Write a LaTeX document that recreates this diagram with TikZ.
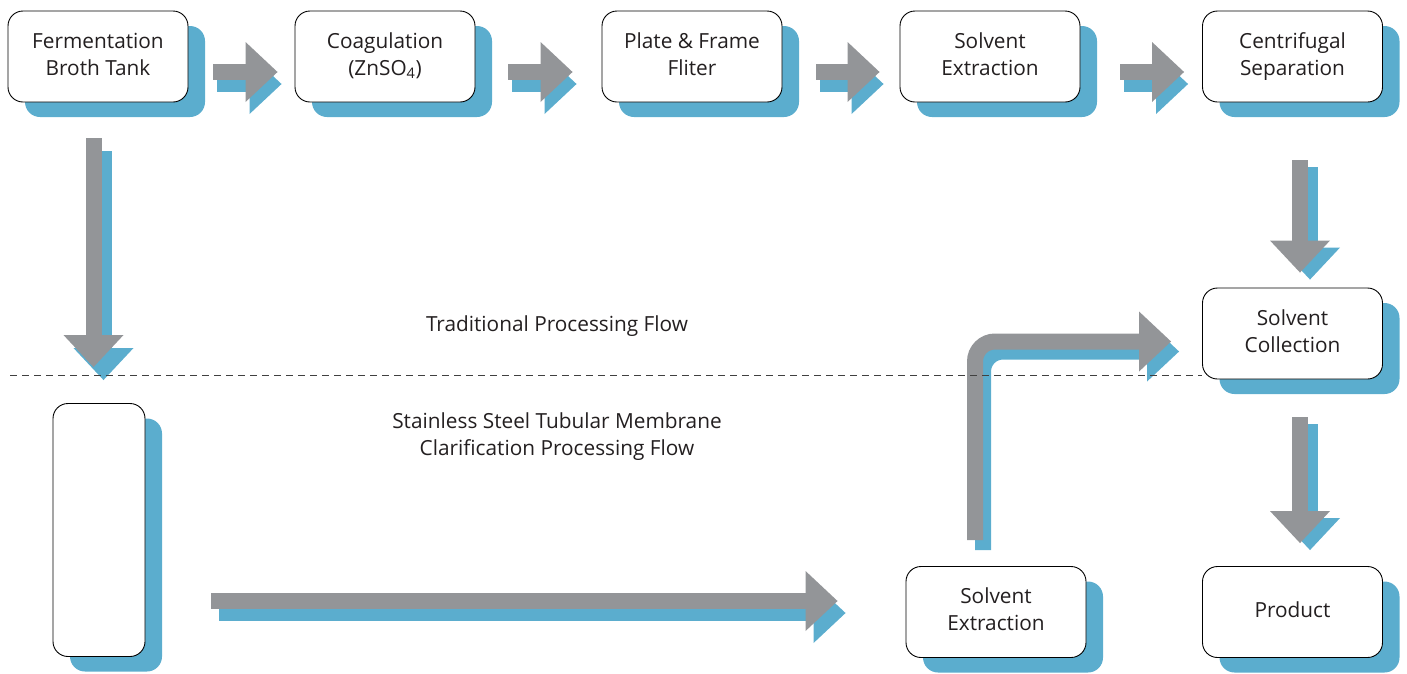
\documentclass[tikz,border=0pt]{standalone}
\usepackage{fontspec}
\setmainfont{Open Sans}
\usetikzlibrary{arrows.meta,shadows,calc}
\definecolor{arrgrey}{HTML}{939598}
\definecolor{shblue}{HTML}{5BADCE}
\definecolor{txt}{HTML}{231F20}
\newcommand\boxtext[1]{\raisebox{3pt}{\begin{tabular}{@{}c@{}}#1\end{tabular}}}
\begin{document}
\begin{tikzpicture}[x=1pt,y=-1pt,
  box/.style={draw=black, line width=0.9pt, fill=white, rounded corners=15pt,
    minimum width=180pt, minimum height=91pt, align=center, inner sep=0pt,
    text=txt, font=\fontsize{20.8}{27}\selectfont,
    general shadow={fill=shblue, shadow xshift=17pt, shadow yshift=-15pt}},
  lbl/.style={align=center, inner sep=0pt, text=txt, font=\fontsize{20.8}{27}\selectfont},
  bigarrow/.style={line width=16pt, line cap=butt,
    -{Triangle[length=32pt, width=60pt, line width=0pt]}},
  grey/.style={draw=arrgrey},
  blue/.style={draw=shblue},
  divider/.style={draw=black!75, line width=1pt, dash pattern=on 7pt off 5pt}
]
\useasboundingbox (0,0) rectangle (1407,673);

% boxes
\node[box] (fbt)  at (98,56.5)     {\boxtext{Fermentation\\Broth Tank}};
\node[box] (coag) at (385,56.5)    {\boxtext{Coagulation\\(ZnSO\textsubscript{4})}};
\node[box] (pff)  at (692,56.5)    {\boxtext{Plate \& Frame\\Fliter}};
\node[box] (se1)  at (990,56.5)    {\boxtext{Solvent\\Extraction}};
\node[box] (cs)   at (1292.5,56.5) {\boxtext{Centrifugal\\Separation}};
\node[box] (sc)   at (1292.5,333.5){\boxtext{Solvent\\Collection}};
\node[box] (prod) at (1292.5,612)  {\boxtext{Product}};
\node[box] (se2)  at (996,612)     {\boxtext{Solvent\\Extraction}};
\node[box, minimum width=92pt, minimum height=253pt] (mem) at (99,530) {};

% labels
\node[lbl] (t1) at (557,326) {Traditional Processing Flow};
\node[lbl] (t2) at (557,437) {Stainless Steel Tubular Membrane\\Clarification Processing Flow};

% top horizontal arrows
\foreach \a/\b/\s/\e in {fbt/coag/25/-17, coag/pff/33/-29, pff/se1/34/-20, se1/cs/40/-18}{
  \draw[bigarrow, blue, transform canvas={shift={(4pt,-12pt)}}]
    ($(\a.east)+(\s,15.5)$) -- ($(\b.west)+(\e,15.5)$);
  \draw[bigarrow, grey] ($(\a.east)+(\s,15.5)$) -- ($(\b.west)+(\e,15.5)$);
}

% left vertical arrow
\draw[bigarrow, blue, transform canvas={shift={(10pt,-13pt)}}]
  ($(fbt.south)+(-4.5,36)$) -- ($(mem.north)+(-5.5,-36)$);
\draw[bigarrow, grey] ($(fbt.south)+(-4.5,36)$) -- ($(mem.north)+(-5.5,-36)$);

% right vertical arrows
\draw[bigarrow, blue, transform canvas={shift={(10pt,-7pt)}}]
  ($(cs.south)+(7.5,58)$) -- ($(sc.north)+(7.5,-15)$);
\draw[bigarrow, grey] ($(cs.south)+(7.5,58)$) -- ($(sc.north)+(7.5,-15)$);
\draw[bigarrow, blue, transform canvas={shift={(10pt,-7pt)}}]
  ($(sc.south)+(7.5,38)$) -- ($(prod.north)+(7.5,-23)$);
\draw[bigarrow, grey] ($(sc.south)+(7.5,38)$) -- ($(prod.north)+(7.5,-23)$);

% bottom long arrow
\draw[bigarrow, blue, transform canvas={shift={(8pt,-12pt)}}]
  ($(mem.east)+(66,71)$) -- ($(se2.west)+(-68,-11)$);
\draw[bigarrow, grey] ($(mem.east)+(66,71)$) -- ($(se2.west)+(-68,-11)$);

% bent arrow
\draw[bigarrow, blue, transform canvas={shift={(8pt,-10pt)}}]
  ($(se2.north)+(-21,-26)$) [rounded corners=20pt] |- ($(sc.west)+(-31,8)$);
\draw[bigarrow, grey]
  ($(se2.north)+(-21,-26)$) [rounded corners=20pt] |- ($(sc.west)+(-31,8)$);

% divider
\coordinate (dl) at (10,375);
\draw[divider] (dl) -- (dl -| sc.west);
\end{tikzpicture}
\end{document}
